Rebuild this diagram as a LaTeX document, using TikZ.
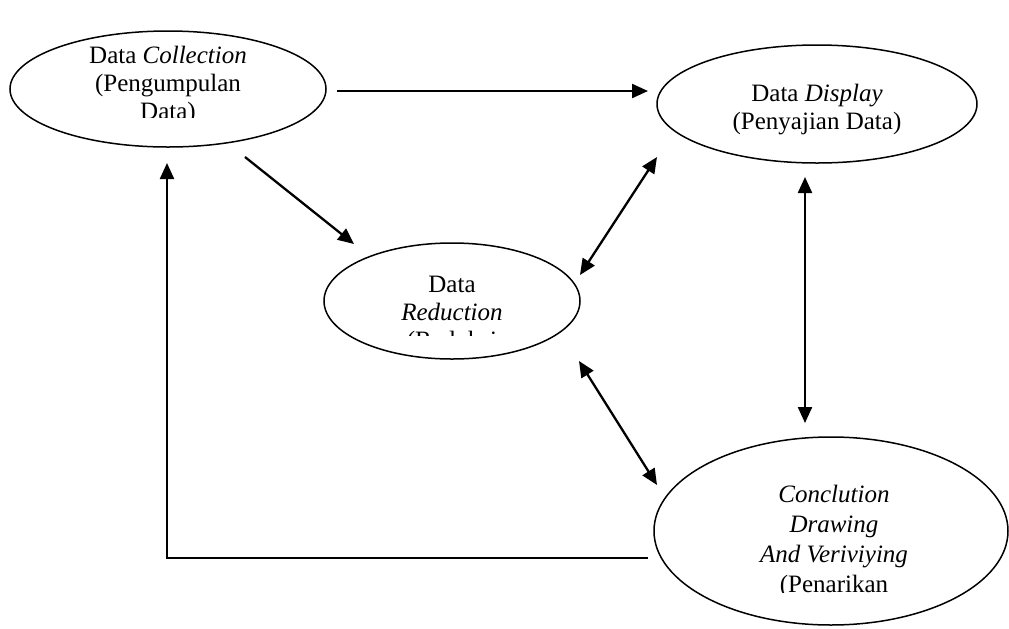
\documentclass[tikz,border=0pt]{standalone}
\usepackage{fontspec}
\setmainfont{Liberation Serif}
\usetikzlibrary{shapes.geometric,arrows.meta}
\begin{document}
\begin{tikzpicture}[x=0.5pt,y=-0.5pt,
  ell/.style={draw, line width=0.75pt, ellipse, inner sep=0pt},
  lbl/.style={align=center, font=\fontsize{12.5}{14}\selectfont, inner sep=0pt},
  arr/.style={line width=1.15pt, -{Triangle[length=8pt,width=7pt]}},
  darr/.style={line width=1.15pt, {Triangle[length=8pt,width=7pt]}-{Triangle[length=8pt,width=7pt]}}]
\useasboundingbox (0,0) rectangle (1009,628);
% ellipses
\node[ell, minimum width=158pt, minimum height=58pt] (coll) at (168,89) {};
\node[ell, minimum width=160pt, minimum height=59pt] (disp) at (817,104) {};
\node[ell, minimum width=128pt, minimum height=58pt] (red) at (452,301) {};
\node[ell, minimum width=177pt, minimum height=94pt] (conc) at (831,531) {};
% clipped texts
\begin{scope}
  \clip (20,30) rectangle (320,117);
  \node[lbl] (colltext) at (168,85) {Data \textit{Collection}\\(Pengumpulan\\Data)};
\end{scope}
\node[lbl] (disptext) at (817,110) {Data \textit{Display}\\(Penyajian Data)};
\begin{scope}
  \clip (340,250) rectangle (560,335);
  \node[lbl] (redtext) at (452,315) {Data\\\textit{Reduction}\\(Reduksi};
\end{scope}
\begin{scope}
  \clip (670,450) rectangle (1000,592);
  \node[lbl, font=\fontsize{12.5}{15}\selectfont] (conctext) at (834,541) {\textit{Conclution}\\\textit{Drawing}\\\textit{And Veriviying}\\(Penarikan};
\end{scope}
% connector end points
\coordinate (a1) at (337,91);
\coordinate (a2) at (648,91);
\coordinate (b1) at (245,157);
\coordinate (b2) at (354,244);
\coordinate (c1) at (580,275);
\coordinate (c2) at (657,157);
\coordinate (d1) at (805,177);
\coordinate (d2) at (805,423);
\coordinate (e1) at (579,361);
\coordinate (e2) at (657,485);
\coordinate (f1) at (648,558);
\coordinate (f2) at (167,558);
\coordinate (f3) at (167,163);
% connectors
\draw[arr] (a1) -- (a2);
\draw[arr] (b1) -- (b2);
\draw[darr] (c1) -- (c2);
\draw[darr] (d1) -- (d2);
\draw[darr] (e1) -- (e2);
\draw[arr] (f1) -- (f2) -- (f3);
\end{tikzpicture}
\end{document}
